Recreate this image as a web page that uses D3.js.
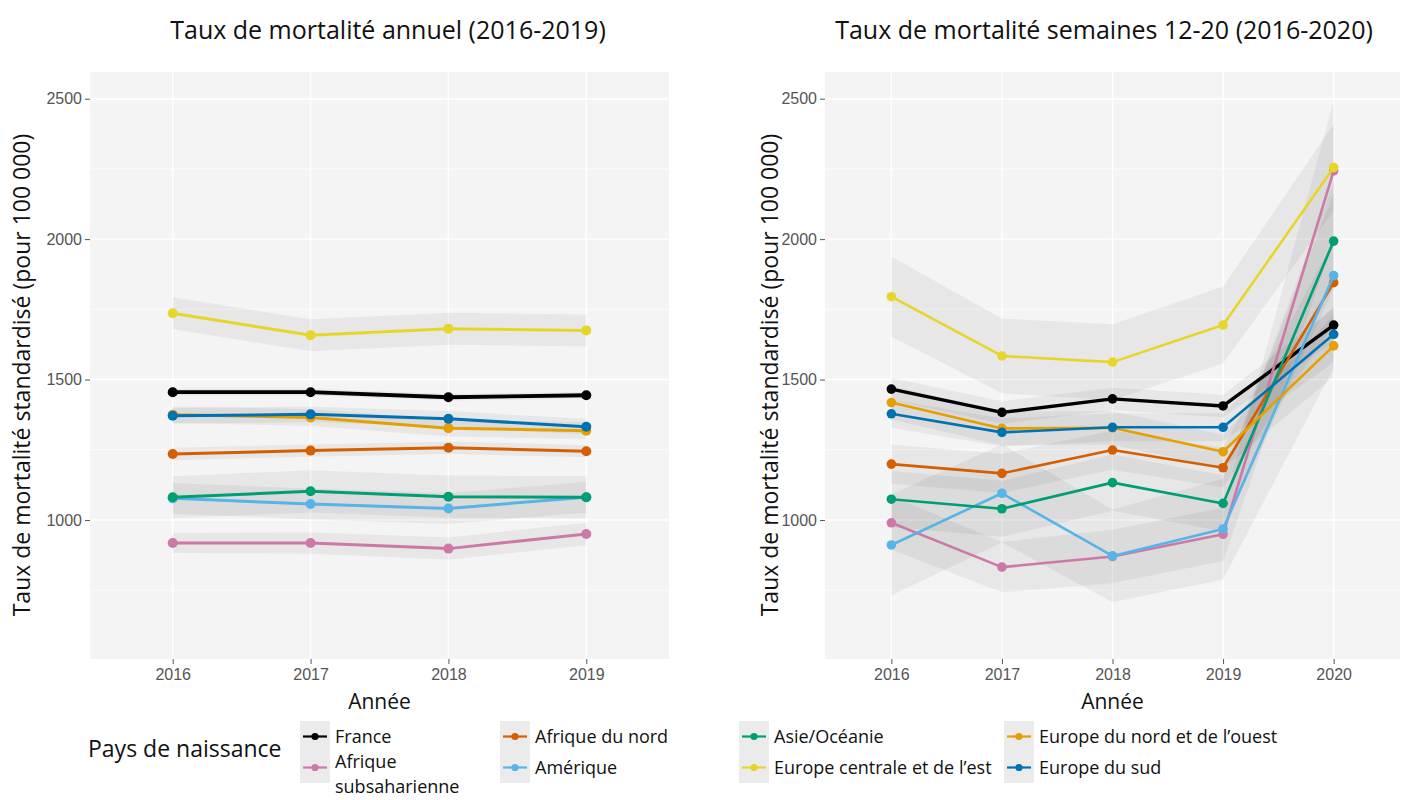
<!DOCTYPE html>
<html>
<head>
<meta charset="utf-8">
<script src="https://cdn.jsdelivr.net/npm/d3@7"></script>
<style>
  body { margin: 0; background: #fff; }
  svg { display: block; }
</style>
</head>
<body>
<svg id="chart" width="1404" height="800"></svg>
<script>
// Series, in legend order (column by column)
const countries = ["France", "Afrique subsaharienne", "Afrique du nord", "Amérique",
    "Asie/Océanie", "Europe centrale et de l’est", "Europe du nord et de l’ouest", "Europe du sud"];
const palette = ["#000000", "#cc79a7", "#d55e00", "#56b4e9", "#009e73", "#e6d62a", "#e69f00", "#0072b2"];

const yearsAnnual = [2016, 2017, 2018, 2019];
const yearsWeeks = [2016, 2017, 2018, 2019, 2020];

// Annual standardised mortality rate (per 100 000), 2016-2019
const annualRates = [
    [1455, 1455, 1437, 1444],
    [918, 918, 898, 950],
    [1235, 1247, 1257, 1245],
    [1077, 1057, 1041, 1081],
    [1081, 1102, 1083, 1081],
    [1736, 1658, 1681, 1675],
    [1375, 1365, 1327, 1318],
    [1371, 1376, 1360, 1332]
];
// half width of the confidence band
const annualMargins = [
    [12, 12, 12, 12],
    [36, 38, 40, 40],
    [22, 22, 22, 22],
    [55, 55, 55, 55],
    [75, 75, 75, 75],
    [57, 57, 57, 57],
    [30, 30, 30, 30],
    [28, 28, 28, 28]
];

// Weeks 12-20 standardised mortality rate, 2016-2020
const weekRates = [
    [1466, 1383, 1431, 1406, 1694],
    [990, 832, 870, 949, 2243],
    [1199, 1166, 1249, 1186, 1845],
    [911, 1095, 872, 968, 1870],
    [1074, 1040, 1133, 1059, 1993],
    [1795, 1584, 1562, 1694, 2255],
    [1418, 1326, 1328, 1243, 1620],
    [1378, 1312, 1330, 1330, 1661]
];
const weekMargins = [
    [40, 40, 40, 40, 60],
    [95, 90, 95, 95, 250],
    [70, 70, 70, 70, 150],
    [180, 175, 165, 180, 330],
    [100, 100, 100, 100, 170],
    [143, 133, 135, 137, 155],
    [60, 60, 60, 60, 110],
    [50, 50, 50, 50, 100]
];

const yLimits = [600, 2500];
const yTicks = [1000, 1500, 2000, 2500];
const yMinorTicks = [750, 1250, 1750, 2250];

const svg = d3.select("#chart");
const textFont = "'Open Sans', 'Noto Sans', sans-serif";
const tickFont = "'Liberation Sans', Arial, sans-serif";

const panelTop = 72, panelBottom = 659;
const yPad = (yLimits[1] - yLimits[0]) * 0.05;
const yScale = d3.scaleLinear()
    .domain([yLimits[0] - yPad, yLimits[1] + yPad])
    .range([panelBottom, panelTop]);

function drawPanel(opts) {
    const years = opts.years;
    const xScale = d3.scaleLinear()
        .domain([years[0] - 0.6, years[years.length - 1] + 0.6])
        .range([opts.left, opts.right]);

    const g = svg.append("g");

    // panel background
    g.append("rect")
        .attr("x", opts.left).attr("y", panelTop)
        .attr("width", opts.right - opts.left)
        .attr("height", panelBottom - panelTop)
        .attr("fill", "#f4f4f4");

    // grid
    g.selectAll(".minor").data(yMinorTicks).enter().append("line")
        .attr("x1", opts.left).attr("x2", opts.right)
        .attr("y1", d => yScale(d)).attr("y2", d => yScale(d))
        .attr("stroke", "#fff").attr("stroke-width", 0.7);
    g.selectAll(".major").data(yTicks).enter().append("line")
        .attr("x1", opts.left).attr("x2", opts.right)
        .attr("y1", d => yScale(d)).attr("y2", d => yScale(d))
        .attr("stroke", "#fff").attr("stroke-width", 1.4);
    g.selectAll(".vgrid").data(years).enter().append("line")
        .attr("x1", d => xScale(d)).attr("x2", d => xScale(d))
        .attr("y1", panelTop).attr("y2", panelBottom)
        .attr("stroke", "#fff").attr("stroke-width", 1.4);

    // axes
    const yAxis = g.append("g")
        .attr("transform", `translate(${opts.left},0)`)
        .call(d3.axisLeft(yScale).tickValues(yTicks).tickFormat(d3.format("d")).tickSize(5).tickPadding(3));
    const xAxis = g.append("g")
        .attr("transform", `translate(0,${panelBottom})`)
        .call(d3.axisBottom(xScale).tickValues(years).tickFormat(d3.format("d")).tickSize(5).tickPadding(5));
    [yAxis, xAxis].forEach(ax => {
        ax.select(".domain").remove();
        ax.selectAll("line").attr("stroke", "#555");
        ax.selectAll("text")
            .attr("fill", "#555")
            .style("font-family", tickFont)
            .style("font-size", "16px");
    });

    // confidence bands
    const area = d3.area()
        .x((d, i) => xScale(years[i]))
        .y0(d => yScale(d[0] - d[1]))
        .y1(d => yScale(d[0] + d[1]));
    countries.forEach((c, k) => {
        const pts = opts.rates[k].map((v, i) => [v, opts.margins[k][i]]);
        g.append("path")
            .attr("d", area(pts))
            .attr("fill", "#000")
            .attr("fill-opacity", 0.05);
    });

    // lines and points
    const line = d3.line()
        .x((d, i) => xScale(years[i]))
        .y(d => yScale(d));
    countries.forEach((c, k) => {
        const s = g.append("g");
        s.append("path")
            .attr("d", line(opts.rates[k]))
            .attr("fill", "none")
            .attr("stroke", palette[k])
            .attr("stroke-width", k === 0 ? opts.lineWidth + 0.8 : opts.lineWidth)
            .attr("stroke-linejoin", "round");
        s.selectAll("circle").data(opts.rates[k]).enter().append("circle")
            .attr("cx", (d, i) => xScale(years[i]))
            .attr("cy", d => yScale(d))
            .attr("r", opts.radius)
            .attr("fill", palette[k]);
    });

    // titles
    const mid = (opts.left + opts.right) / 2;
    svg.append("text")
        .attr("x", opts.titleX).attr("y", 39)
        .attr("text-anchor", "middle")
        .style("font-family", textFont).style("font-size", "25px")
        .attr("fill", "#111")
        .text(opts.title);
    svg.append("text")
        .attr("x", mid).attr("y", 709)
        .attr("text-anchor", "middle")
        .style("font-family", textFont).style("font-size", "21px")
        .attr("fill", "#111")
        .text("Année");
    svg.append("text")
        .attr("transform", `translate(${opts.yLabelX},375) rotate(-90)`)
        .attr("text-anchor", "middle")
        .style("font-family", textFont).style("font-size", "23px")
        .attr("fill", "#111")
        .text("Taux de mortalité standardisé (pour 100 000)");
}

drawPanel({
    left: 90, right: 669, years: yearsAnnual,
    rates: annualRates, margins: annualMargins,
    lineWidth: 3, radius: 5,
    title: "Taux de mortalité annuel (2016-2019)", titleX: 388, yLabelX: 30
});
drawPanel({
    left: 825, right: 1400, years: yearsWeeks,
    rates: weekRates, margins: weekMargins,
    lineWidth: 2.6, radius: 4.8,
    title: "Taux de mortalité semaines 12-20 (2016-2020)", titleX: 1104, yLabelX: 778
});

// legend
const legendCols = [300, 500, 739, 1004];
const legendRows = [721, 752];
svg.append("text")
    .attr("x", 88).attr("y", 757)
    .style("font-family", textFont).style("font-size", "23px")
    .attr("fill", "#111")
    .text("Pays de naissance");

countries.forEach((c, k) => {
    const x = legendCols[Math.floor(k / 2)];
    const y = legendRows[k % 2];
    const item = svg.append("g").attr("transform", `translate(${x},${y})`);
    item.append("rect")
        .attr("width", 30).attr("height", 31)
        .attr("fill", "#ebebeb");
    item.append("line")
        .attr("x1", 3).attr("x2", 27).attr("y1", 15.5).attr("y2", 15.5)
        .attr("stroke", palette[k]).attr("stroke-width", 2.2);
    item.append("circle")
        .attr("cx", 15).attr("cy", 15.5).attr("r", 3.6)
        .attr("fill", palette[k]);
    const wrapped = c === "Afrique subsaharienne";
    const words = wrapped ? ["Afrique", "subsaharienne"] : [c];
    const label = item.append("text")
        .attr("x", 35).attr("y", wrapped ? 16 : 22)
        .style("font-family", textFont).style("font-size", "18px")
        .attr("fill", "#111");
    words.forEach((w, i) => {
        label.append("tspan").attr("x", 35).attr("dy", i === 0 ? 0 : 24.5).text(w);
    });
});
</script>
</body>
</html>
